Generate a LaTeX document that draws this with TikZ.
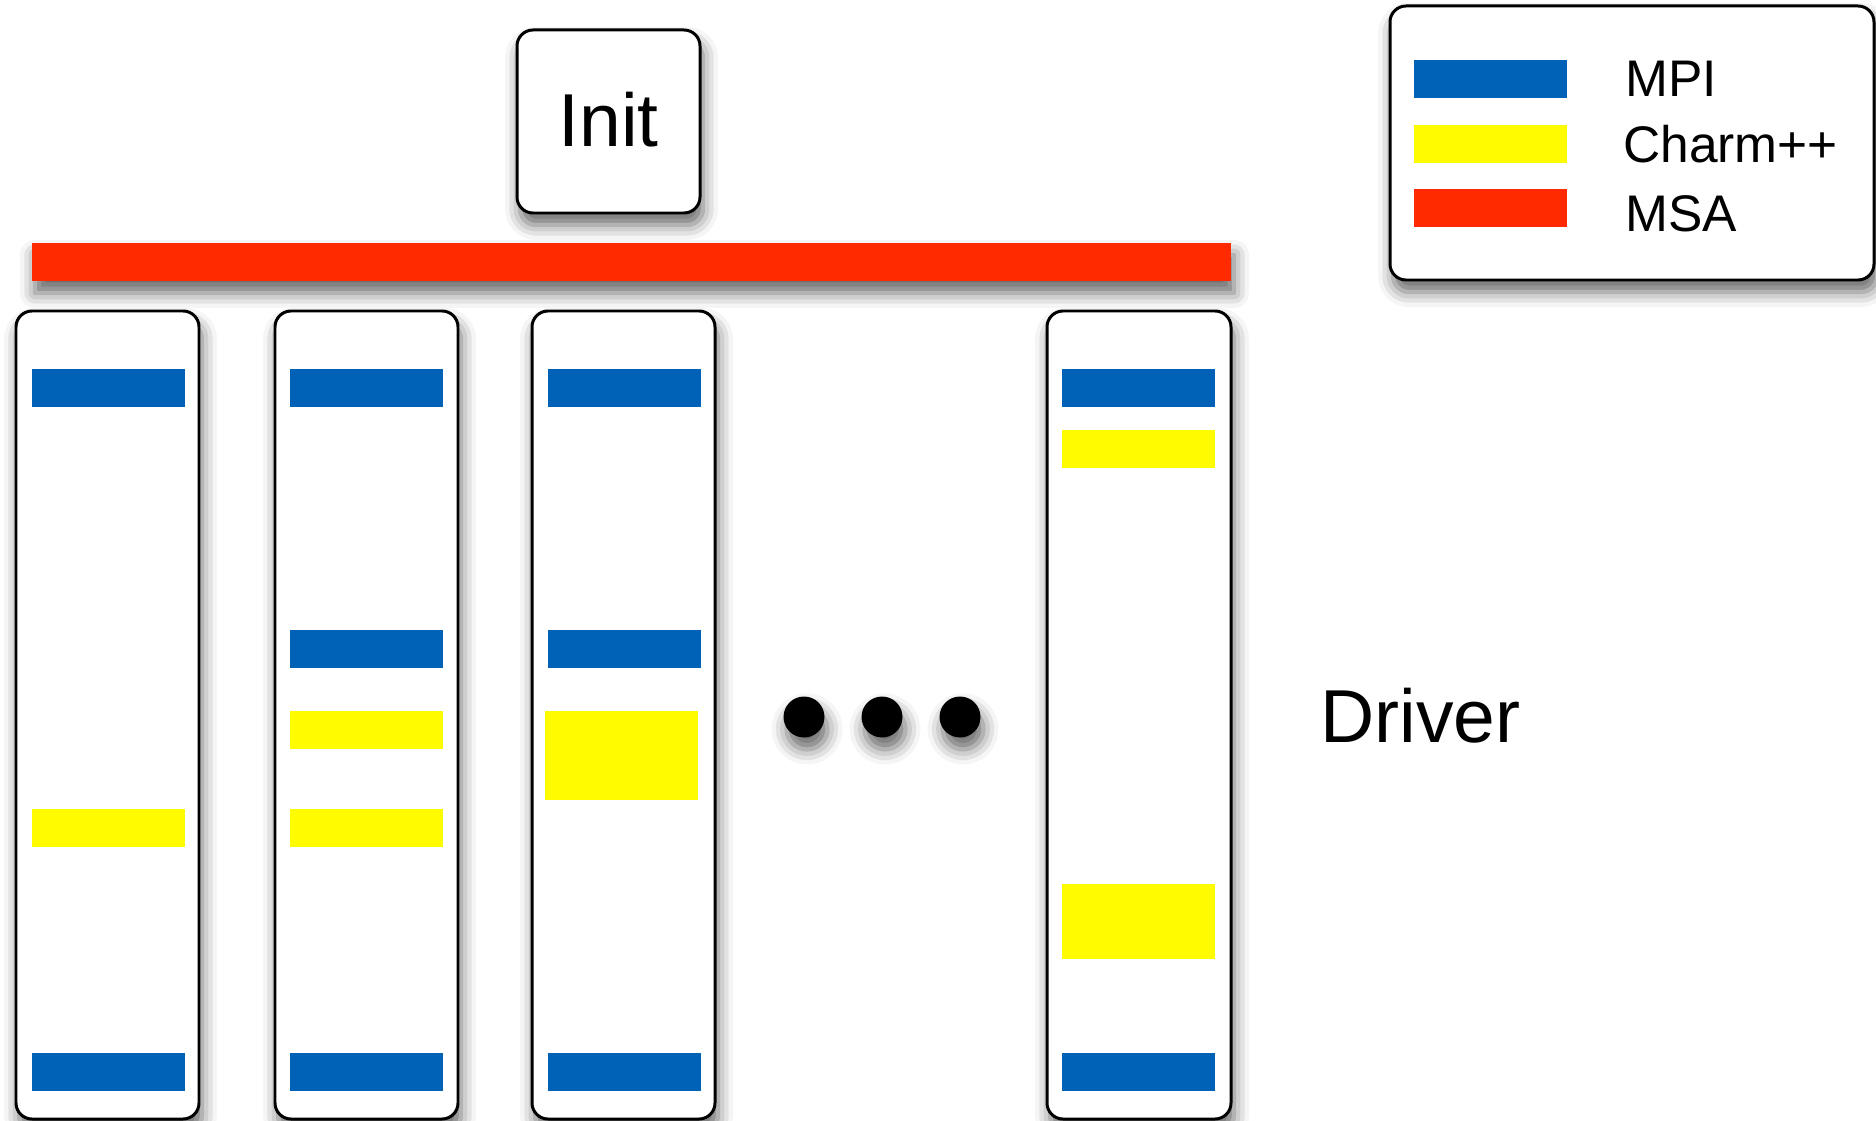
\documentclass[tikz,border=0pt]{standalone}
\usepackage{fontspec}
\setmainfont{Liberation Sans}
\usetikzlibrary{fit,shadows.blur}
\definecolor{mpiblue}{RGB}{0,98,182}
\definecolor{charmyellow}{RGB}{255,252,0}
\definecolor{msared}{RGB}{255,42,0}
\tikzset{
  softshadow/.style={blur shadow={shadow xshift=0.06cm, shadow yshift=-0.24cm,
      shadow blur radius=0.3cm, shadow opacity=60}},
  panel/.style={draw=black, line width=1.7pt, rounded corners=0.32cm,
      fill=white, inner sep=0pt, outer sep=0pt, softshadow},
  bar/.style={inner sep=0pt, outer sep=0pt, draw=none},
  mpibar/.style={bar, fill=mpiblue},
  charmbar/.style={bar, fill=charmyellow},
  msabar/.style={bar, fill=msared},
  bigtext/.style={inner sep=0pt, font=\fontsize{42.7}{48}\selectfont},
  legtext/.style={inner sep=0pt, anchor=base west, font=\fontsize{29.3}{34}\selectfont},
  dot/.style={circle, fill=black, inner sep=0pt, minimum size=0.82cm, softshadow}
}
\begin{document}
\begin{tikzpicture}[x=0.02cm,y=-0.02cm]
  \useasboundingbox (0,0) rectangle (1876,1121);

  % Init box and the MSA layer below it
  \node[panel, fit={(517,30) (700,213)}] (init) {};
  \node[bigtext, anchor=base] (initlabel) at (608.5,147) {Init};
  \node[msabar, fit={(32,243) (1231,281)}, softshadow] (msa) {};

  % Driver columns
  \node[panel, fit={(16,311) (199,1119)}] (col1) {};
  \node[panel, fit={(275,311) (458,1119)}] (col2) {};
  \node[panel, fit={(532,311) (715,1119)}] (col3) {};
  \node[panel, fit={(1047,311) (1231,1119)}] (col4) {};

  % column 1
  \node[mpibar, fit={(32,369) (185,407)}] (c1a) {};
  \node[charmbar, fit={(32,809) (185,847)}] (c1b) {};
  \node[mpibar, fit={(32,1053) (185,1091)}] (c1c) {};

  % column 2
  \node[mpibar, fit={(290,369) (443,407)}] (c2a) {};
  \node[mpibar, fit={(290,630) (443,668)}] (c2b) {};
  \node[charmbar, fit={(290,711) (443,749)}] (c2c) {};
  \node[charmbar, fit={(290,809) (443,847)}] (c2d) {};
  \node[mpibar, fit={(290,1053) (443,1091)}] (c2e) {};

  % column 3
  \node[mpibar, fit={(548,369) (701,407)}] (c3a) {};
  \node[mpibar, fit={(548,630) (701,668)}] (c3b) {};
  \node[charmbar, fit={(545,711) (698,800)}] (c3c) {};
  \node[mpibar, fit={(548,1053) (701,1091)}] (c3d) {};

  % column 4
  \node[mpibar, fit={(1062,369) (1215,407)}] (c4a) {};
  \node[charmbar, fit={(1062,430) (1215,468)}] (c4b) {};
  \node[charmbar, fit={(1062,884) (1215,959)}] (c4c) {};
  \node[mpibar, fit={(1062,1053) (1215,1091)}] (c4d) {};

  % ellipsis between the columns
  \node[dot] (d1) at (804,717) {};
  \node[dot] (d2) at (882,717) {};
  \node[dot] (d3) at (960,717) {};

  \node[bigtext, anchor=base west] (driver) at (1320,742) {Driver};

  % legend
  \node[panel, fit={(1390,6) (1874,280)}] (legend) {};
  \node[mpibar, fit={(1414,60) (1567,98)}] (lmpi) {};
  \node[charmbar, fit={(1414,125) (1567,163)}] (lcharm) {};
  \node[msabar, fit={(1414,189) (1567,227)}] (lmsa) {};
  \node[legtext] (tmpi) at (1625,97) {MPI};
  \node[legtext] (tcharm) at (1623,163) {Charm++};
  \node[legtext] (tmsa) at (1625,232) {MSA};
\end{tikzpicture}
\end{document}
